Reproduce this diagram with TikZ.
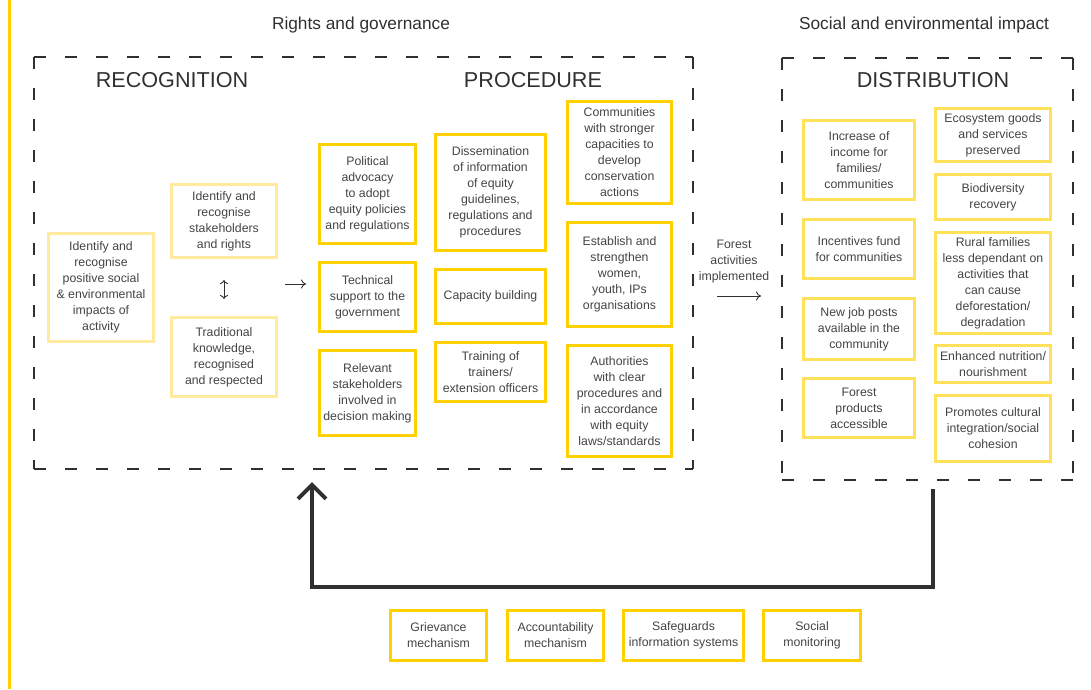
\documentclass[tikz,border=0pt]{standalone}
\usepackage{fontspec}
\setmainfont{Liberation Sans}
\usetikzlibrary{arrows.meta}
\definecolor{yelbright}{HTML}{FFD100}
\definecolor{yelmid}{HTML}{FFE15A}
\definecolor{yelpale}{HTML}{FFEA9E}
\definecolor{txt}{HTML}{444444}
\definecolor{dk}{HTML}{303030}
\tikzset{
  box/.style={draw, line width=2.6pt, align=center, inner sep=1pt, text=txt,
    font=\fontsize{12.3}{16}\selectfont},
  rbox/.style={box, draw=yelpale},
  pbox/.style={box, draw=yelbright},
  dbox/.style={box, draw=yelmid},
  head/.style={text=dk, font=\fontsize{21.6}{26}\selectfont},
  title/.style={text=dk, font=\fontsize{17.3}{20}\selectfont},
  dashline/.style={draw=dk, line width=1.4pt, dash pattern=on 12pt off 19pt},
  small/.style={text=txt, align=center, font=\fontsize{12.3}{16}\selectfont},
  thinarrow/.style={draw=dk, line width=0.9pt, -{To[length=5pt,width=9pt]}},
}
\newcommand{\bx}[7]{\node[#1, minimum width=#4pt-2.6pt, minimum height=#5pt-2.6pt] (#2) at (#3) {#6};}
\newcommand{\dashrect}[4]{%
  \draw[dashline] (#1,#2) -- (#3,#2);
  \draw[dashline] (#1,#2) -- (#1,#4);
  \draw[dashline] (#1,#4) -- (#3,#4);
  \draw[dashline] (#3,#2) -- (#3,#4);}
\begin{document}
\begin{tikzpicture}[x=1pt,y=-1pt]
\useasboundingbox (0,0) rectangle (1091,689);
\fill[yelbright] (7.5,0) rectangle (11,689);
% titles
\node[title] (t1) at (361,25) {Rights and governance};
\node[title] (t2) at (924,25) {Social and environmental impact};
% dashed containers
\dashrect{34}{57}{693}{469}
\dashrect{782}{58}{1073}{480}
\node[head] (h1) at (172,80) {RECOGNITION};
\node[head] (h2) at (533,80) {PROCEDURE};
\node[head] (h3) at (933,80) {DISTRIBUTION};
% recognition
\bx{rbox}{r1}{101,287.5}{108}{111}{Identify and\\recognise\\positive social\\\& environmental\\impacts of\\activity}{}
\bx{rbox}{r2}{224,221}{108}{76}{Identify and\\recognise\\stakeholders\\and rights}{}
\bx{rbox}{r3}{224,357}{108}{82}{Traditional\\knowledge,\\recognised\\and respected}{}
\coordinate (ud1) at (224,280);
\coordinate (ud2) at (224,299);
\draw[draw=dk, line width=0.9pt, {To[length=4pt,width=8pt]}-{To[length=4pt,width=8pt]}] (ud1) -- (ud2);
\coordinate (ra1) at (285,284);
\coordinate (ra2) at (306,284);
\draw[thinarrow] (ra1) -- (ra2);
% procedure
\bx{pbox}{p1}{367.5,194}{99}{102}{Political\\advocacy\\to adopt\\equity policies\\and regulations}{}
\bx{pbox}{p2}{367.5,297}{99}{72}{Technical\\support to the\\government}{}
\bx{pbox}{p3}{367.5,393}{99}{88}{Relevant\\stakeholders\\involved in\\decision making}{}
\bx{pbox}{p4}{490.5,192.5}{113}{119}{Dissemination\\of information\\of equity\\guidelines,\\regulations and\\procedures}{}
\bx{pbox}{p5}{490.5,296.5}{113}{57}{Capacity building}{}
\bx{pbox}{p6}{490.5,372}{113}{62}{Training of\\trainers/\\extension officers}{}
\bx{pbox}{p7}{619.5,152.5}{107}{105}{Communities\\with stronger\\capacities to\\develop\\conservation\\actions}{}
\bx{pbox}{p8}{619.5,274.5}{107}{107}{Establish and\\strengthen\\women,\\youth, IPs\\organisations}{}
\bx{pbox}{p9}{619.5,401}{107}{114}{Authorities\\with clear\\procedures and\\in accordance\\with equity\\laws/standards}{}
% forest activities
\node[small] (fa) at (734,262) {Forest\\activities\\implemented};
\coordinate (fa1) at (717,296);
\coordinate (fa2) at (761,296);
\draw[thinarrow] (fa1) -- (fa2);
% distribution
\bx{dbox}{d1}{859,160}{114}{82}{Increase of\\income for\\families/\\communities}{}
\bx{dbox}{d2}{859,249}{114}{62}{Incentives fund\\for communities}{}
\bx{dbox}{d3}{859,329}{114}{64}{New job posts\\available in the\\community}{}
\bx{dbox}{d4}{859,408}{114}{62}{Forest\\products\\accessible}{}
\bx{dbox}{d5}{993,135}{118}{56}{Ecosystem goods\\and services\\preserved}{}
\bx{dbox}{d6}{993,197}{118}{48}{Biodiversity\\recovery}{}
\bx{dbox}{d7}{993,283}{118}{104}{Rural families\\less dependant on\\activities that\\can cause\\deforestation/\\degradation}{}
\bx{dbox}{d8}{993,364}{118}{40}{Enhanced nutrition/\\nourishment}{}
\bx{dbox}{d9}{993,428.5}{118}{69}{Promotes cultural\\integration/social\\cohesion}{}
% feedback loop
\coordinate (fbs) at (933,489);
\coordinate (fbe) at (312,482);
\draw[draw=dk, line width=4pt, -{Straight Barb[length=14pt,width=28pt,line width=4pt]}]
  (fbs) |- (622,587) -| (fbe);
% bottom boxes
\bx{pbox}{b1}{438.5,635.5}{99}{53}{Grievance\\mechanism}{}
\bx{pbox}{b2}{555.5,635.5}{99}{53}{Accountability\\mechanism}{}
\bx{pbox}{b3}{683.5,635.5}{123}{53}{Safeguards\\information systems}{}
\bx{pbox}{b4}{812,635.5}{100}{53}{Social\\monitoring}{}
\end{tikzpicture}
\end{document}
